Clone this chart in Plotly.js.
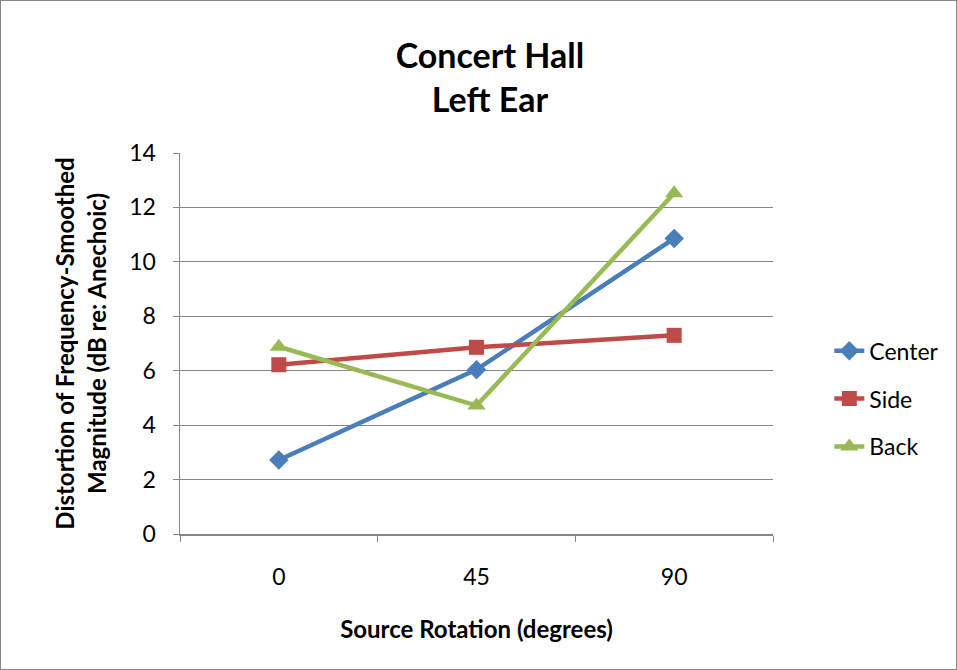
<!DOCTYPE html>
<html><head><meta charset="utf-8">
<script src="https://cdn.plot.ly/plotly-3.0.1.min.js"></script>
<style>
html,body{margin:0;padding:0;background:#fff;}
#wrap{position:absolute;left:0;top:0;width:955px;height:668px;border:1px solid #888;}
#chart{width:955px;height:668px;}
</style></head>
<body><div id="wrap"><div id="chart"></div></div>
<script>
const categories = ["0", "45", "90"];
const center = [2.72, 6.04, 10.86];
const side = [6.22, 6.86, 7.30];
const back = [6.88, 4.72, 12.52];
const seriesNames = ["Center", "Side", "Back"];

const colors = ["#4A7EBB", "#BE4B48", "#98B954"];
const symbols = ["diamond", "square", "triangle-up"];
const sizes = [15, 15, 16];
const data = [center, side, back].map((vals, i) => ({
  x: categories, y: vals, type: "scatter", mode: "lines+markers",
  name: seriesNames[i], legendgroup: "g" + i,
  line: {color: colors[i], width: 4.5},
  marker: {color: colors[i], symbol: symbols[i], size: sizes[i]}
}));

const font = "Lato, 'Open Sans', sans-serif";
const layout = {
  width: 955, height: 668,
  margin: {l: 179, r: 183, t: 152, b: 135},
  paper_bgcolor: "#fff", plot_bgcolor: "#fff",
  font: {family: font, size: 23, color: "#000"},
  title: {text: "<b>Concert Hall<br>Left Ear</b>", x: 0.512, xanchor: "center", y: 0.90, yanchor: "top",
          font: {family: font, size: 34, color: "#000"}},
  xaxis: {type: "category", tickson: "boundaries", ticks: "outside", ticklen: 6, tickcolor: "#868686",
          showgrid: false, showline: true, linecolor: "#868686", linewidth: 1.5,
          range: [-0.5, 2.5], ticklabelstandoff: 22, tickfont: {size: 23},
          title: {text: "<b>Source Rotation (degrees)</b>", font: {size: 24}, standoff: 32}},
  yaxis: {range: [0, 14], dtick: 2, ticks: "outside", ticklen: 6, tickcolor: "#868686",
          showgrid: true, gridcolor: "#868686", gridwidth: 1.2, showline: true, linecolor: "#868686", linewidth: 1.5,
          zeroline: false, ticklabelstandoff: 12, tickfont: {size: 23},
          title: {text: "<b>Distortion of Frequency-Smoothed<br>Magnitude (dB re: Anechoic)</b>", font: {size: 24}, standoff: 16}},
  legend: {x: 1.095, xanchor: "left", y: 0.355, yanchor: "middle", font: {size: 23},
           tracegroupgap: 15, itemwidth: 30, bgcolor: "rgba(0,0,0,0)"},
  showlegend: true
};
Plotly.newPlot("chart", data, layout, {displayModeBar: false, staticPlot: true});
</script></body></html>
